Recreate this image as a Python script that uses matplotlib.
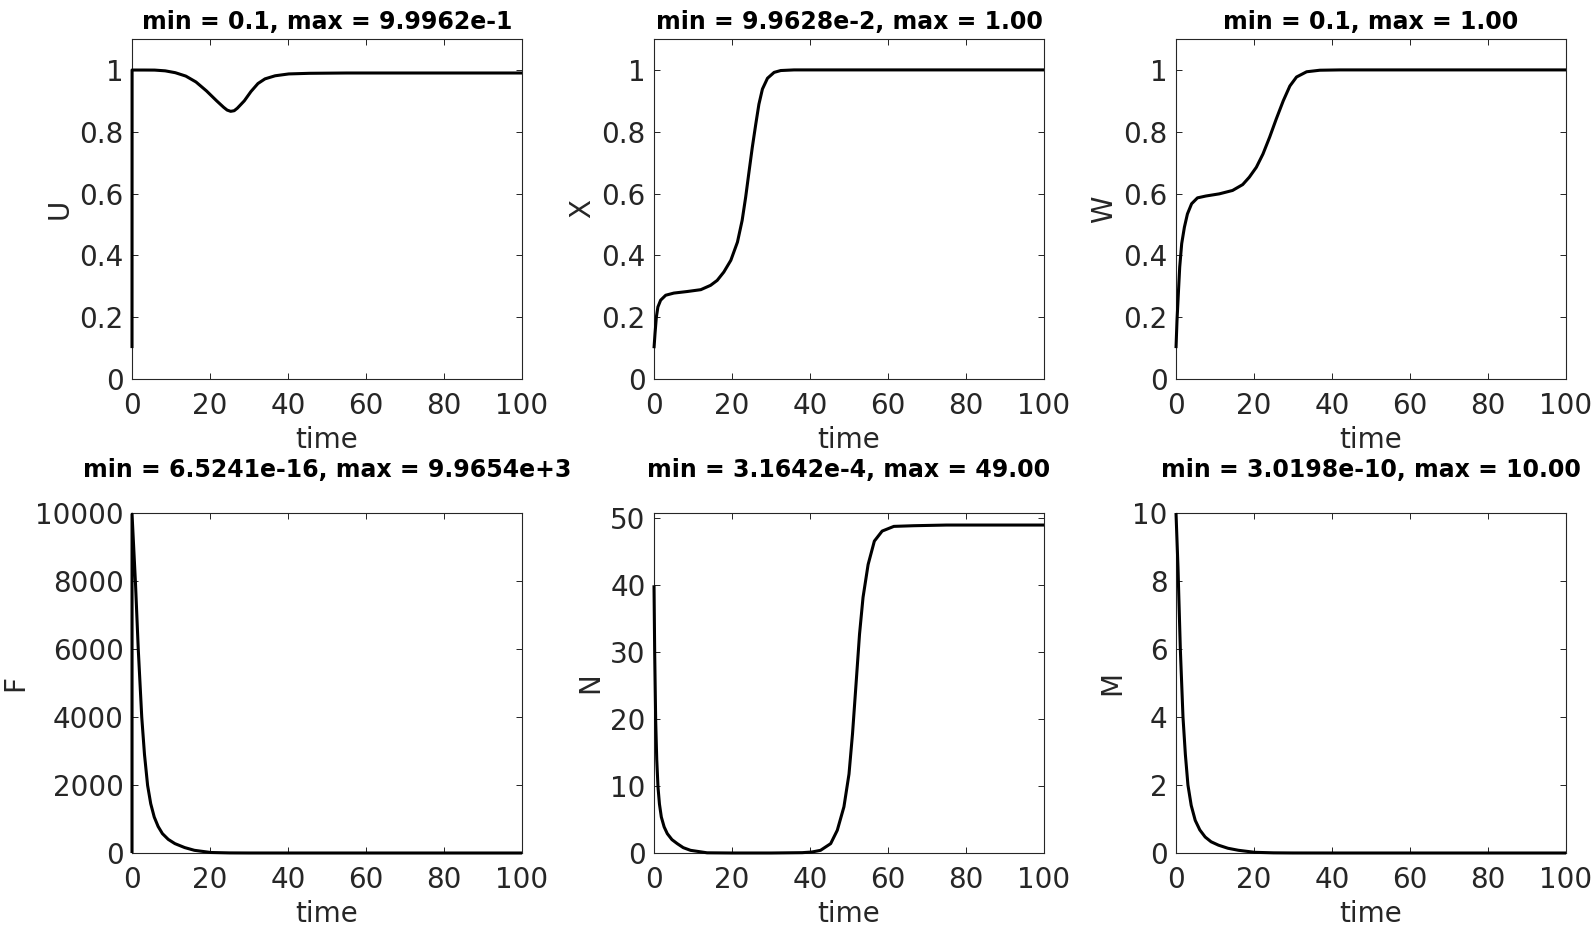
import matplotlib
matplotlib.use("Agg")
import matplotlib.pyplot as plt

# values
u_t = [0, 0.02, 3, 5.8, 8.5, 11.1, 13.8, 16.4, 19.1, 21.7, 23.5, 24.4, 25.3, 26.2, 27.0, 28.8, 30.5, 32.3, 34.1, 36.7, 40.2, 45.5, 55, 70, 85, 100]
u_v = [0.1, 0.9996, 0.9996, 0.9994, 0.997, 0.991, 0.98, 0.961, 0.932, 0.9, 0.879, 0.870, 0.866, 0.868, 0.876, 0.9, 0.93, 0.956, 0.971, 0.981, 0.987, 0.989, 0.99, 0.99, 0.99, 0.99]

x_t = [0, 0.26, 0.6, 1.0, 1.7, 3.0, 5.1, 8.5, 12, 14.5, 16.2, 17.9, 19.7, 21.4, 22.6, 23.5, 24.4, 25.2, 26.1, 26.9, 27.8, 29.1, 30.8, 32.5, 35.9, 50, 75, 100]
x_v = [0.0996, 0.147, 0.20, 0.233, 0.255, 0.271, 0.278, 0.283, 0.289, 0.303, 0.319, 0.346, 0.384, 0.443, 0.513, 0.588, 0.674, 0.749, 0.825, 0.889, 0.938, 0.973, 0.992, 0.998, 1.0, 1.0, 1.0, 1.0]

w_t = [0, 0.26, 0.6, 0.95, 1.46, 2.15, 2.93, 4.0, 5.5, 7.66, 11.1, 14.5, 17.1, 18.8, 20.6, 22.3, 24.0, 25.7, 27.5, 29.2, 30.9, 33.5, 36.9, 42, 60, 80, 100]
w_v = [0.1, 0.19, 0.276, 0.362, 0.438, 0.491, 0.534, 0.567, 0.586, 0.592, 0.599, 0.61, 0.629, 0.653, 0.685, 0.728, 0.782, 0.841, 0.9, 0.948, 0.977, 0.994, 0.999, 1.0, 1.0, 1.0, 1.0]

f_t = [0, 0.01, 0.9, 1.6, 2.5, 3.2, 4.0, 4.8, 5.7, 6.7, 7.8, 9.3, 11.0, 13.5, 16.0, 20.2, 25, 30, 40, 60, 80, 100]
f_v = [0, 9965, 7914, 6005, 3996, 2900, 1989, 1450, 1058, 780, 570, 400, 276, 160, 79, 15, 3, 0.5, 0, 0, 0, 0]

n_t = [0, 0.18, 0.43, 0.7, 1.03, 1.4, 1.88, 2.6, 3.41, 4.6, 5.96, 7.5, 9.36, 13.6, 20, 30, 38, 40.5, 42.7, 45.3, 47.0, 48.7, 50.0, 50.9, 51.8, 52.7, 53.6, 54.9, 56.5, 58.5, 61.5, 66.6, 75, 100]
n_v = [40.0, 29.7, 19.8, 14.0, 9.8, 7.3, 5.37, 3.9, 2.89, 2.0, 1.4, 0.8, 0.4, 0.03, 0.0003, 0.0003, 0.05, 0.15, 0.4, 1.4, 3.4, 6.9, 11.8, 17.8, 25.2, 32.7, 38.2, 43.1, 46.6, 48.1, 48.8, 48.9, 49.0, 49.0]

m_t = [0, 0.51, 1.11, 1.79, 2.4, 3.06, 3.9, 4.93, 6.1, 7.48, 9.0, 10.9, 13.3, 16.0, 20.2, 25, 30, 40, 60, 80, 100]
m_v = [10.0, 8.40, 6.0, 4.0, 2.9, 2.0, 1.4, 0.96, 0.68, 0.47, 0.33, 0.23, 0.14, 0.08, 0.02, 0.005, 0.001, 0, 0, 0, 0]

names = ["U", "X", "W", "F", "N", "M"]
titles = [
    "min = 0.1, max = 9.9962e-1",
    "min = 9.9628e-2, max = 1.00",
    "min = 0.1, max = 1.00",
    "min = 6.5241e-16, max = 9.9654e+3",
    "min = 3.1642e-4, max = 49.00",
    "min = 3.0198e-10, max = 10.00",
]
series = [(u_t, u_v), (x_t, x_v), (w_t, w_v), (f_t, f_v), (n_t, n_v), (m_t, m_v)]
ytops = [1.1, 1.1, 1.1, 10000, 50.8, 10]
yticks = [
    [0, 0.2, 0.4, 0.6, 0.8, 1],
    [0, 0.2, 0.4, 0.6, 0.8, 1],
    [0, 0.2, 0.4, 0.6, 0.8, 1],
    [0, 2000, 4000, 6000, 8000, 10000],
    [0, 10, 20, 30, 40, 50],
    [0, 2, 4, 6, 8, 10],
]
xticks = [0, 20, 40, 60, 80, 100]

W, H = 1596, 930
fig = plt.figure(figsize=(W / 100, H / 100), dpi=100)

lefts = [132, 654, 1176]
tops = [39, 513]
aw, ah = 390, 340
title_pads = [7, 26]

tick_col = "#262626"
for i, name in enumerate(names):
    r, c = divmod(i, 3)
    ax = fig.add_axes([lefts[c] / W, 1 - (tops[r] + ah) / H, aw / W, ah / H])
    t, v = series[i]
    ax.plot(t, v, color="black", lw=2.2, solid_joinstyle="round",
            solid_capstyle="butt", clip_on=False, zorder=3)
    ax.set_xlim(0, 100)
    ax.set_ylim(0, ytops[i])
    ax.set_xticks(xticks)
    ax.set_yticks(yticks[i])
    if r == 0:
        ax.set_yticklabels(["0", "0.2", "0.4", "0.6", "0.8", "1"])
    ax.tick_params(direction="in", length=4, width=0.6, labelsize=20,
                   labelcolor=tick_col, top=True, right=True)
    ax.tick_params(axis="x", pad=9)
    ax.tick_params(axis="y", pad=6)
    for s in ax.spines.values():
        s.set_linewidth(0.8)
        s.set_color("#262626")
    ax.set_xlabel("time", fontsize=20, color=tick_col, labelpad=5)
    ax.set_ylabel(name, fontsize=20, color=tick_col, labelpad=4)
    ax.set_title(titles[i], fontsize=17, fontweight="bold", pad=title_pads[r])

fig.savefig("out.png", dpi=100)
